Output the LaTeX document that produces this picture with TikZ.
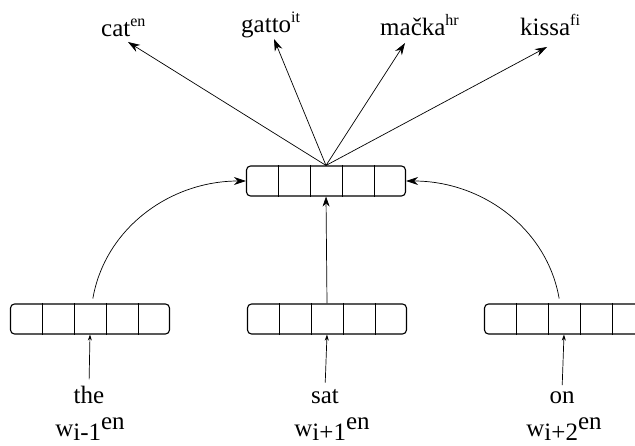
\documentclass[tikz,border=0pt]{standalone}
\usepackage{fontspec}
\setmainfont{Liberation Serif}
\usetikzlibrary{arrows.meta,calc}
\newcommand{\mysup}[1]{\raisebox{10pt}{\fontsize{16}{16}\selectfont #1}}
\newcommand{\wlab}[1]{w\raisebox{-5pt}{#1}\raisebox{6pt}{en}}
\begin{document}
\begin{tikzpicture}[x=1pt,y=-1pt,
  vec/.style={draw,line width=1.1pt,rounded corners=4pt,minimum width=159pt,minimum height=30pt,inner sep=0pt},
  lbl/.style={font=\fontsize{25}{27}\selectfont,inner sep=0pt,anchor=base},
  tlbl/.style={font=\fontsize{25}{27}\selectfont,inner sep=0pt,anchor=base west},
  big/.style={-{Stealth[length=12pt,width=8pt]},line width=0.7pt},
  med/.style={-{Stealth[length=10pt,width=7pt]},line width=0.7pt},
  small/.style={-{Stealth[length=6pt,width=4pt]},line width=0.7pt},
  divider/.style={line width=0.7pt}]
\useasboundingbox (0,0) rectangle (635,446);

% vectors
\node[vec] (top) at (326,181) {};
\node[vec] (bl) at (90,319) {};
\node[vec] (bm) at (327,319) {};
\node[vec] (br) at (564,319) {};
\foreach \n in {top,bl,bm,br}{
  \foreach \i in {1,...,4}{
    \draw[divider] ($(\n.north west)!{\i/5}!(\n.north east)$) -- ($(\n.south west)!{\i/5}!(\n.south east)$);
  }
}

% input words
\node[lbl] (the) at (89,403) {the};
\node[lbl] (sat) at (325,403) {sat};
\node[lbl] (on) at (562,403) {on};
\node[lbl] (wl) at (90,436) {\wlab{i-1}};
\node[lbl] (wm) at (332,436) {\wlab{i+1}};
\node[lbl] (wr) at (564,436) {\wlab{i+2}};

% output words
\node[tlbl] (cat) at (101,37) {cat\mysup{en}};
\node[tlbl] (gatto) at (241,33) {gatto\mysup{it}};
\node[tlbl] (macka) at (380,36) {ma\v{c}ka\mysup{hr}};
\node[tlbl] (kissa) at (520,36) {kissa\mysup{fi}};

\coordinate (tcat) at (128,42);
\coordinate (tgatto) at (274,39);
\coordinate (tmacka) at (405,43);
\coordinate (tkissa) at (547,47);

% arrows from input words
\draw[small,shorten <=6pt] (the.north) -- (bl.south);
\draw[small,shorten <=6pt] (sat.north) -- (bm.south);
\draw[small,shorten <=6pt] (on.north) -- (br.south);

% into the central vector
\draw[big,shorten <=5pt] ([xshift=2pt]bl.north) .. controls +(13,-75) and +(-76,0) .. (top.west);
\draw[med] (bm.north) -- (top.south);
\draw[big,shorten <=5pt] ([xshift=-4pt]br.north) .. controls +(-13,-75) and +(76,0) .. (top.east);

% outputs
\draw[big] (top.north) -- (tcat);
\draw[big] (top.north) -- (tgatto);
\draw[big] (top.north) -- (tmacka);
\draw[big] (top.north) -- (tkissa);
\end{tikzpicture}
\end{document}
